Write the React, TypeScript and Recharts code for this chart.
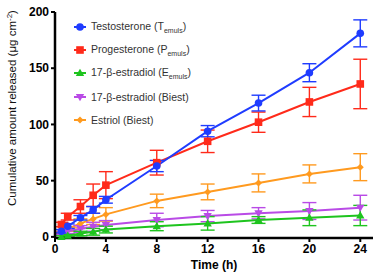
import React from "react";
import { LineChart, Line, XAxis, YAxis, ErrorBar } from "recharts";

const times = [0.5, 1, 2, 3, 4, 8, 12, 16, 20, 24];
const testosterone = [5, 9.5, 17, 24, 33, 63, 94, 119, 146, 181];
const testosteroneErr = [1.5, 2, 2, 3, 3, 5, 5, 7, 8, 12];
const progesterone = [11, 18, 27, 37, 46, 66, 85, 102, 120, 136];
const progesteroneErr = [2, 3, 6, 10, 12, 11, 10, 9, 13, 22];
const estradiolEmuls = [0, 1, 3, 4.5, 6.5, 9.5, 12, 15, 17, 19];
const estradiolEmulsErr = [1, 1, 2, 3, 3, 4, 6, 3, 7, 9];
const estradiolBiest = [3, 5, 7, 9, 10.5, 15, 18.5, 21, 23, 26];
const estradiolBiestErr = [1, 2, 3, 4, 4, 6, 5, 5, 7.5, 11];
const estriol = [4, 7, 12, 16, 20, 32, 40, 48, 56, 62];
const estriolErr = [1, 2, 4, 5, 6, 6, 7, 8, 8, 12];

const xTicks = [0, 4, 8, 12, 16, 20, 24];
const yTicks = [0, 50, 100, 150, 200];

const data = times.map((t, i) => ({
  t,
  tes: testosterone[i],
  tesErr: testosteroneErr[i],
  pro: progesterone[i],
  proErr: progesteroneErr[i],
  ee: estradiolEmuls[i],
  eeErr: estradiolEmulsErr[i],
  eb: estradiolBiest[i],
  ebErr: estradiolBiestErr[i],
  es: estriol[i],
  esErr: estriolErr[i],
}));

const FONT = "'Liberation Sans', Arial, sans-serif";

const BLUE = "#1f3cff";
const RED = "#ff2a1a";
const GREEN = "#1ec41e";
const PURPLE = "#b94be6";
const ORANGE = "#ff9a1f";

type Kind = "circle" | "square" | "tri" | "tridown" | "diamond";

function mark(kind: Kind, cx: number, cy: number, color: string, key?: any) {
  switch (kind) {
    case "circle":
      return <circle key={key} cx={cx} cy={cy} r={3.8} fill={color} />;
    case "square":
      return <rect key={key} x={cx - 3.8} y={cy - 3.8} width={7.6} height={7.6} fill={color} />;
    case "tri":
      return (
        <path key={key} d={`M${cx},${cy - 4.2}L${cx + 4.2},${cy + 3}L${cx - 4.2},${cy + 3}Z`} fill={color} />
      );
    case "tridown":
      return (
        <path key={key} d={`M${cx},${cy + 4.2}L${cx + 4.2},${cy - 3}L${cx - 4.2},${cy - 3}Z`} fill={color} />
      );
    default:
      return (
        <path key={key} d={`M${cx},${cy - 3.5}L${cx + 3.5},${cy}L${cx},${cy + 3.5}L${cx - 3.5},${cy}Z`} fill={color} />
      );
  }
}

const dotFor = (kind: Kind, color: string) => (props: any) =>
  mark(kind, props.cx, props.cy, color, `${kind}-${props.index}`);

// drawn back to front, so testosterone ends up on top
const series = [
  { key: "es", err: "esErr", color: ORANGE, kind: "diamond" as Kind },
  { key: "eb", err: "ebErr", color: PURPLE, kind: "tridown" as Kind },
  { key: "ee", err: "eeErr", color: GREEN, kind: "tri" as Kind },
  { key: "pro", err: "proErr", color: RED, kind: "square" as Kind },
  { key: "tes", err: "tesErr", color: BLUE, kind: "circle" as Kind },
];

const legendItems: { name: string; sub?: string; tail?: string; color: string; kind: Kind }[] = [
  { name: "Testosterone (T", sub: "emuls", tail: ")", color: BLUE, kind: "circle" },
  { name: "Progesterone (P", sub: "emuls", tail: ")", color: RED, kind: "square" },
  { name: "17-\u03b2-estradiol (E", sub: "emuls", tail: ")", color: GREEN, kind: "tri" },
  { name: "17-\u03b2-estradiol (Biest)", color: PURPLE, kind: "tridown" },
  { name: "Estriol (Biest)", color: ORANGE, kind: "diamond" },
];

function YLabel() {
  return (
    <text
      transform="translate(16,108) rotate(-90)"
      textAnchor="middle"
      fontFamily={FONT}
      fontSize={11.5}
      fill="#111"
    >
      Cumulative amount released (μg cm
      <tspan dy={-4} fontSize={8}>-2</tspan>
      <tspan dy={4}>)</tspan>
    </text>
  );
}

export default function App() {
  return (
    <div style={{ position: "absolute", left: 0, top: 0, width: 377, height: 274, background: "#fff" }}>
      <LineChart
        width={377}
        height={274}
        data={data}
        margin={{ top: 12, right: 4, bottom: 0, left: 0 }}
      >
        <XAxis
          dataKey="t"
          type="number"
          domain={[0, 25]}
          ticks={xTicks}
          height={36}
          tickSize={4}
          tickMargin={2}
          stroke="#000"
          axisLine={{ strokeWidth: 2.5 }}
          tickLine={{ strokeWidth: 2 }}
          tick={{ fill: "#000", fontSize: 12, fontWeight: "bold", fontFamily: FONT }}
          label={{
            value: "Time (h)",
            position: "insideBottom",
            offset: 5,
            style: { fill: "#000", fontSize: 12, fontWeight: "bold", fontFamily: FONT },
          }}
        />
        <YAxis
          type="number"
          domain={[0, 200]}
          ticks={yTicks}
          width={55}
          tickSize={4}
          tickMargin={2}
          stroke="#000"
          axisLine={{ strokeWidth: 2.5 }}
          tickLine={{ strokeWidth: 2 }}
          tick={{ fill: "#000", fontSize: 12, fontWeight: "bold", fontFamily: FONT }}
          label={<YLabel />}
        />
        {series.map((s) => (
          <Line
            key={s.key}
            dataKey={s.key}
            stroke={s.color}
            strokeWidth={2}
            dot={dotFor(s.kind, s.color)}
            activeDot={false}
            isAnimationActive={false}
          >
            <ErrorBar
              dataKey={s.err}
              direction="y"
              width={7}
              strokeWidth={1.4}
              stroke={s.color}
              isAnimationActive={false}
            />
          </Line>
        ))}
      </LineChart>
      <div style={{ position: "absolute", left: 73, top: 15, fontFamily: FONT, fontSize: 10.5, color: "#333" }}>
        {legendItems.map((it) => (
          <div key={it.name} style={{ height: 23.4, display: "flex", alignItems: "center" }}>
            <svg width={16} height={12} style={{ marginRight: 2 }}>
              <line x1={1} y1={6} x2={13} y2={6} stroke={it.color} strokeWidth={2} />
              {mark(it.kind, 7, 6, it.color)}
            </svg>
            <span>
              {it.name}
              {it.sub && <sub style={{ fontSize: 7 }}>{it.sub}</sub>}
              {it.tail}
            </span>
          </div>
        ))}
      </div>
    </div>
  );
}
